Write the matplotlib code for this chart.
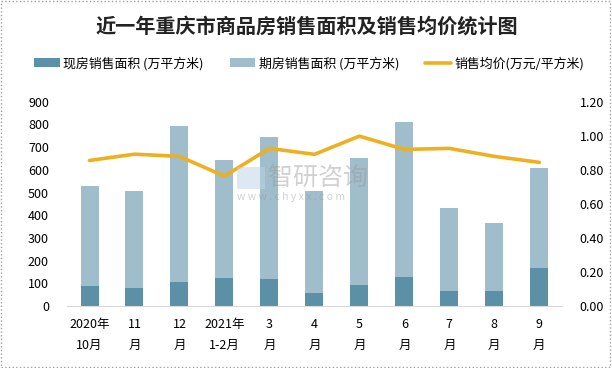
import numpy as np
import matplotlib.pyplot as plt
from matplotlib.patches import Rectangle

plt.rcParams['font.family'] = ['Noto Sans CJK SC', 'DejaVu Sans']

# data
months = ['2020年\n10月', '11\n月', '12\n月', '2021年\n1-2月', '3\n月', '4\n月',
          '5\n月', '6\n月', '7\n月', '8\n月', '9\n月']
total_area = [528, 506, 791, 642, 743, 506, 651, 809, 431, 365, 607]   # 现房+期房 total
spot_area = [88, 79, 105, 123, 119, 57, 92, 127, 66, 66, 167]          # 现房销售面积
avg_price = [0.855, 0.892, 0.879, 0.763, 0.926, 0.891, 0.998, 0.920, 0.926, 0.879, 0.844]

futures_area = [t - s for t, s in zip(total_area, spot_area)]          # 期房销售面积

dark = '#5B90A6'
light = '#9FBDCB'
gold = '#EEB020'

fig = plt.figure(figsize=(6.12, 3.68), dpi=100)
ax = fig.add_axes([0.1095, 0.1685, 0.8085, 0.555])
ax2 = ax.twinx()

x = np.arange(len(months))
b1 = ax.bar(x, spot_area, width=0.4, color=dark, zorder=2)
b2 = ax.bar(x, futures_area, width=0.4, bottom=spot_area, color=light, zorder=2)
l1, = ax2.plot(x, avg_price, color=gold, lw=2.6, solid_capstyle='round', zorder=3)

ax.set_xlim(-0.5, len(months) - 0.5)
ax.set_ylim(0, 900)
ax.set_yticks(range(0, 901, 100))
ax2.set_ylim(0, 1.2)
ax2.set_yticks(np.arange(0, 1.21, 0.2))
ax2.set_yticklabels(['%.2f' % v for v in np.arange(0, 1.21, 0.2)])

ax.set_xticks(x)
ax.set_xticklabels(months, fontsize=9, linespacing=1.75)

for a in (ax, ax2):
    for s in ['top', 'left', 'right', 'bottom']:
        a.spines[s].set_visible(False)
    a.tick_params(length=0, labelsize=9)
ax.spines['bottom'].set_visible(True)
ax.spines['bottom'].set_color('#D9D9D9')
ax.tick_params(axis='y', pad=13)
ax2.tick_params(axis='y', pad=13)
ax.tick_params(axis='x', pad=9)

fig.text(0.502, 0.93, '近一年重庆市商品房销售面积及销售均价统计图', ha='center', va='center',
         fontsize=14.5, fontweight='bold', color='#222222')

fig.legend([b1, b2, l1], ['现房销售面积 (万平方米)', '期房销售面积 (万平方米)', '销售均价(万元/平方米)'],
           loc='center', bbox_to_anchor=(0.505, 0.828), ncol=3, frameon=False, fontsize=9.3,
           handlelength=2.0, handletextpad=0.25, columnspacing=2.0)

# watermark
fig.text(0.438, 0.516, '智研咨询', fontsize=18, color='#9A9A9A', alpha=0.45,
         ha='left', va='center')
fig.text(0.387, 0.465, 'w w w . c h y x x . c o m', fontsize=7.5, color='#9A9A9A', alpha=0.45,
         ha='left', va='center')
fig.patches.append(Rectangle((0.387, 0.486), 0.046, 0.06, transform=fig.transFigure,
                             facecolor='#BFD3E6', alpha=0.5, edgecolor='none'))

# dotted frame around figure
fig.patches.append(Rectangle((0.002, 0.003), 0.995, 0.993, transform=fig.transFigure,
                             fill=False, edgecolor='#A0A0A0', lw=1, ls=':'))

fig.savefig('out.png', dpi=100)
